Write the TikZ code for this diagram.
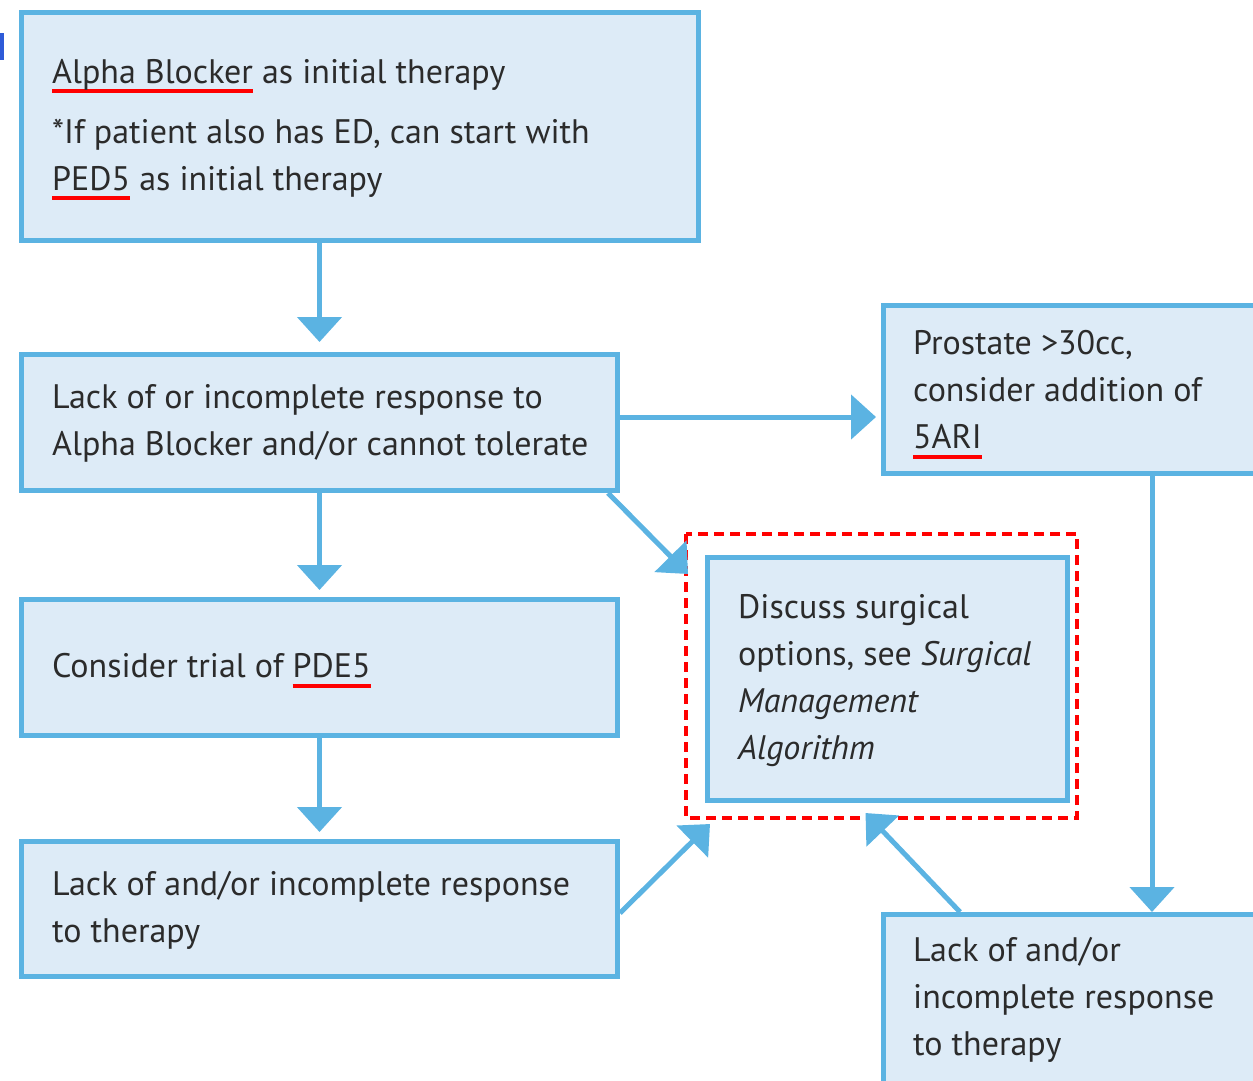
\documentclass[tikz,border=0pt]{standalone}
\usepackage{fontspec}
\setmainfont{PT Sans}
\usetikzlibrary{arrows.meta,calc}
\definecolor{boxline}{HTML}{5BB3E2}
\definecolor{boxfill}{HTML}{DDEBF7}
\definecolor{txt}{HTML}{2B2B2B}
\definecolor{markblue}{HTML}{2E5BD8}
% red underline drawn below a word
\newcommand\redul[1]{\leavevmode\setbox0\hbox{#1}\rlap{\color{red}\rule[-10pt]{\wd0}{4pt}}#1}
\tikzset{
  box/.style={draw=boxline, fill=boxfill, line width=5pt, rectangle,
    anchor=north west, inner sep=0pt},
  lbl/.style={anchor=west, inner sep=0pt, align=left, text=txt,
    font=\fontsize{34}{47}\selectfont},
  arr/.style={draw=boxline, line width=5pt,
    -{Triangle[width=44pt,length=25pt]}},
  redbox/.style={draw=red, line width=3.5pt, dash pattern=on 10pt off 6pt}
}
\begin{document}
\begin{tikzpicture}[x=1pt,y=-1pt]
\useasboundingbox (0,0) rectangle (1253,1080);
\clip (0,0) rectangle (1253,1080);
\fill[markblue] (0,33) rectangle (4,60);

% boxes
\node[box, minimum width=677pt, minimum height=228pt] (b1) at (19,10) {};
\node[box, minimum width=596pt, minimum height=136pt] (b2) at (19,352) {};
\node[box, minimum width=596pt, minimum height=136pt] (b3) at (19,597) {};
\node[box, minimum width=596pt, minimum height=135pt] (b4) at (19,839) {};
\node[box, minimum width=380pt, minimum height=168pt] (b5) at (881,303) {};
\node[box, minimum width=360pt, minimum height=243pt] (b6) at (705,555) {};
\node[box, minimum width=380pt, minimum height=178pt] (b7) at (881,912) {};

% texts
\node[lbl] (t1) at ($(b1.west)+(33,3)$)
  {\redul{Alpha Blocker} as initial therapy\\[13pt]
   *If patient also has ED, can start with\\
   \redul{PED5} as initial therapy};
\node[lbl] (t2) at ($(b2.west)+(33,1)$)
  {Lack of or incomplete response to\\
   Alpha Blocker and/or cannot tolerate};
\node[lbl] (t3) at ($(b3.west)+(33,3)$)
  {Consider trial of \redul{PDE5}};
\node[lbl] (t4) at ($(b4.west)+(33,1)$)
  {Lack of and/or incomplete response\\
   to therapy};
\node[lbl] (t5) at ($(b5.west)+(32,5)$)
  {Prostate >30cc,\\
   consider addition of\\
   \redul{5ARI}};
\node[lbl] (t6) at ($(b6.west)+(33,2)$)
  {Discuss surgical\\
   options, see \textit{Surgical}\\
   \textit{Management}\\
   \textit{Algorithm}};
\node[lbl] (t7) at ($(b7.north west)+(32,88)$)
  {Lack of and/or\\
   incomplete response\\
   to therapy};

\draw[redbox] (686,534) rectangle (1077,818);

% connectors
\draw[arr, shorten >=10pt] (b2.north |- b1.south) -- (b2.north);
\draw[arr, shorten >=7pt] (b2.south) -- (b3.north);
\draw[arr, shorten >=7pt] (b3.south) -- (b4.north);
\draw[arr, shorten >=5pt] (b2.east |- 0,417) -- (b5.west |- 0,417);
\coordinate (d1s) at ($(b2.south east)+(-12,0)$);
\coordinate (d1e) at ($(b6.north west)+(-17,19)$);
\draw[arr] (d1s) -- (d1e);
\coordinate (d2s) at ($(b4.east)+(0,4)$);
\coordinate (d2e) at ($(b6.south west)+(5,21)$);
\draw[arr] (d2s) -- (d2e);
\coordinate (d3s) at ($(b7.north west)+(79,0)$);
\coordinate (d3e) at ($(b6.south)+(-22,10)$);
\draw[arr] (d3s) -- (d3e);
\coordinate (v1s) at ($(b5.south west)+(271,0)$);
\coordinate (v1e) at ($(b7.north west)+(271,0)$);
\draw[arr] (v1s) -- (v1e);
\end{tikzpicture}
\end{document}
